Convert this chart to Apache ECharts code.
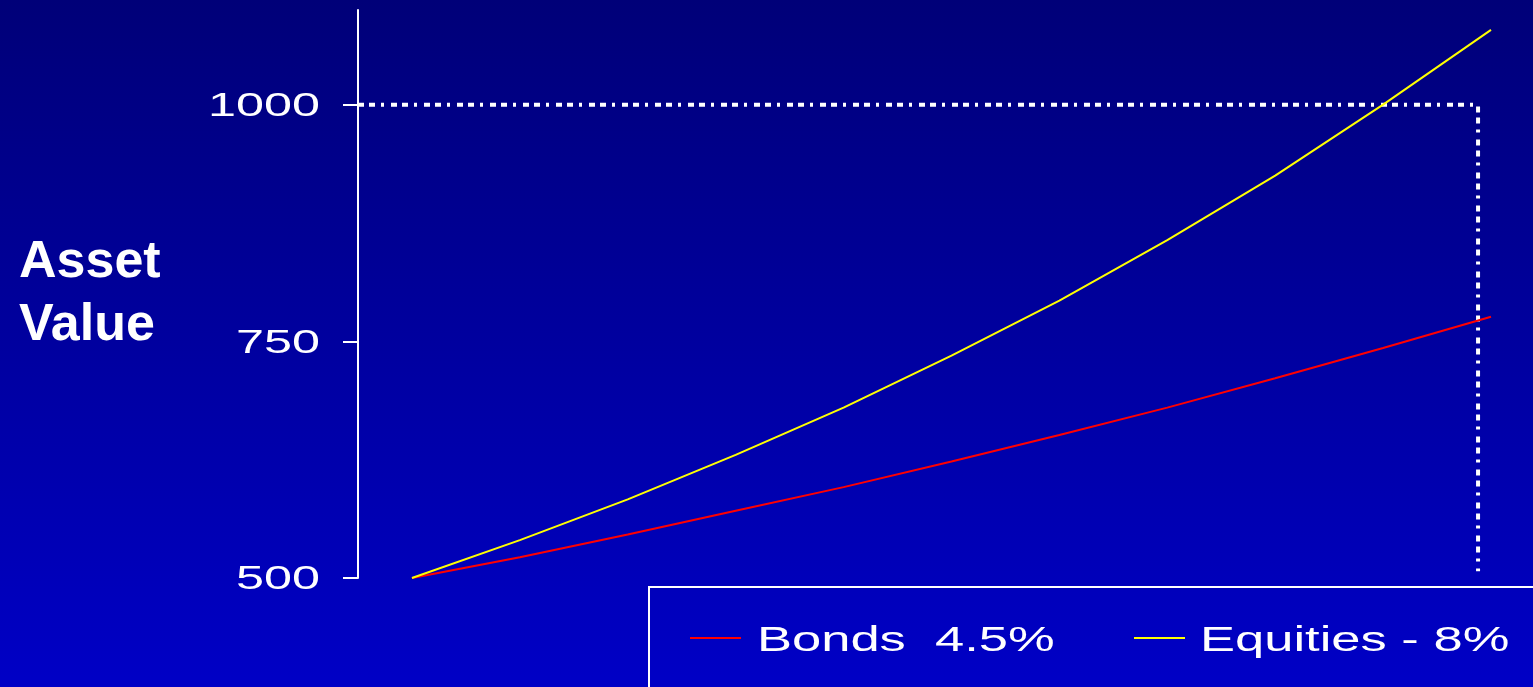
<!DOCTYPE html>
<html>
<head>
<meta charset="utf-8">
<script src="https://cdn.jsdelivr.net/npm/echarts@6/dist/echarts.min.js"></script>
<style>
  html, body { margin: 0; padding: 0; background: #00007c; }
  #chart { width: 1533px; height: 687px; }
</style>
</head>
<body>
<div id="chart"></div>
<script>
// Growth of 500 over ten years
const years = [0, 1, 2, 3, 4, 5, 6, 7, 8, 9, 10];
const bonds = [500, 522, 546, 571, 596, 623, 651, 680, 711, 743, 776];
const equities = [500, 540, 583, 630, 680, 735, 793, 857, 925, 1000, 1079];
const seriesNames = ['Bonds  4.5%', 'Equities - 8%'];
const seriesColors = ['#ff0000', '#ffff00'];

// Y axis tick values and their labels
const yTicks = [500, 750, 1000];
const yTickLabels = ['500', '750', '1000'];

// Dotted guide: across at 1000, then down near year 10
const guideX = [-0.5, 9.88, 9.88];
const guideY = [1000, 1000, 507];

const chart = echarts.init(document.getElementById('chart'));

const zip = (xs, ys) => xs.map((x, i) => [x, ys[i]]);

const option = {
  animation: false,
  backgroundColor: {
    type: 'linear', x: 0, y: 0, x2: 0, y2: 1,
    colorStops: [
      { offset: 0, color: '#000078' },
      { offset: 1, color: '#0000c6' }
    ]
  },
  title: {
    text: 'Asset\nValue',
    left: 14,
    top: 226,
    textStyle: {
      color: '#ffffff',
      fontFamily: 'Liberation Sans, Arial, sans-serif',
      fontWeight: 'bold',
      fontSize: 52,
      lineHeight: 63
    }
  },
  grid: { left: 358, right: 42, top: 10, bottom: 109, containLabel: false },
  xAxis: {
    type: 'value',
    min: -0.5,
    max: 10,
    show: false
  },
  yAxis: {
    type: 'value',
    min: 500,
    max: 1100,
    interval: 250,
    axisLine: { show: true, onZero: false, lineStyle: { color: '#ffffff', width: 2 } },
    axisTick: {
      show: true,
      length: 15,
      customValues: yTicks,
      lineStyle: { color: '#ffffff', width: 2 }
    },
    axisLabel: { show: false },
    splitLine: { show: false }
  },
  series: [
    {
      name: 'guide',
      type: 'line',
      data: zip(guideX, guideY),
      showSymbol: false,
      silent: true,
      lineStyle: { color: '#ffffff', width: 4, type: [6, 5, 6, 6, 3, 7], cap: 'butt' },
      z: 1
    },
    {
      name: seriesNames[0],
      type: 'line',
      data: zip(years, bonds),
      showSymbol: false,
      lineStyle: { color: seriesColors[0], width: 2 },
      z: 2
    },
    {
      name: seriesNames[1],
      type: 'line',
      data: zip(years, equities),
      showSymbol: false,
      lineStyle: { color: seriesColors[1], width: 2 },
      z: 2
    }
  ]
};

chart.setOption(option);

// Wide lettering for tick labels and key, placed via the axis scale
const labelFont = '34px "Liberation Sans", Arial, sans-serif';
const keyFont = '35px "Liberation Sans", Arial, sans-serif';
const graphics = [];

yTicks.forEach((v, i) => {
  const py = chart.convertToPixel({ yAxisIndex: 0 }, v);
  graphics.push({
    type: 'text',
    x: 320,
    y: py + 2,
    scaleX: 1.48,
    silent: true,
    style: {
      text: yTickLabels[i],
      font: labelFont,
      fill: '#ffffff',
      align: 'right',
      verticalAlign: 'middle'
    }
  });
});

// Key box with line swatches
graphics.push({
  type: 'rect',
  shape: { x: 649, y: 587, width: 1000, height: 200 },
  silent: true,
  style: { fill: 'none', stroke: '#ffffff', lineWidth: 2 }
});
const keyItems = [
  { icon: 690, text: 757 },
  { icon: 1134, text: 1200 }
];
keyItems.forEach((k, i) => {
  graphics.push({
    type: 'line',
    shape: { x1: k.icon, y1: 638, x2: k.icon + 51, y2: 638 },
    silent: true,
    style: { stroke: seriesColors[i], lineWidth: 2 }
  });
  graphics.push({
    type: 'text',
    x: k.text,
    y: 641,
    scaleX: 1.5,
    silent: true,
    style: {
      text: seriesNames[i],
      font: keyFont,
      fill: '#ffffff',
      align: 'left',
      verticalAlign: 'middle'
    }
  });
});

chart.setOption({ graphic: graphics });
</script>
</body>
</html>
